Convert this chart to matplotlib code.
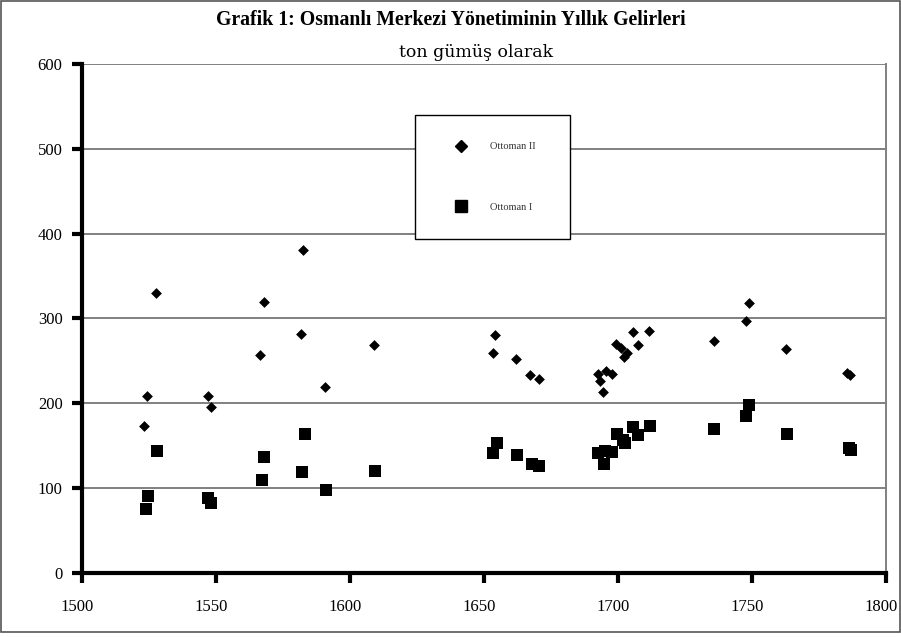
import matplotlib
matplotlib.use("Agg")
import matplotlib.pyplot as plt
from matplotlib.patches import Rectangle
from matplotlib.lines import Line2D
from matplotlib.transforms import ScaledTranslation

# Ottoman II (diamonds)
years_ii = [1523.3, 1524.4, 1527.7, 1546.9, 1548.0, 1567.8, 1566.6, 1581.6, 1582.6,
            1590.7, 1609.0, 1654.3, 1653.2, 1662.1, 1667.3, 1670.5,
            1692.5, 1693.4, 1694.5, 1695.6, 1697.7, 1699.1, 1701.3, 1703.2, 1702.4,
            1705.5, 1707.5, 1711.7, 1735.7, 1748.8, 1747.7, 1762.8, 1785.5, 1786.6]
vals_ii = [172.9, 208.6, 329.5, 208.6, 195.2, 319.2, 257.4, 282.0, 380.3,
           219.8, 268.8, 280.2, 259.0, 252.3, 233.2, 228.1,
           234.7, 226.2, 213.6, 238.6, 234.7, 269.6, 265.6, 259.7, 254.3,
           283.7, 269.2, 285.2, 273.9, 318.1, 296.6, 264.1, 236.0, 233.6]

# Ottoman I (squares)
years_i = [1528.1, 1524.7, 1523.9, 1547.2, 1548.3, 1568.1, 1567.0, 1583.1, 1582.0,
           1591.0, 1609.3, 1654.7, 1653.5, 1662.5, 1667.8, 1670.7,
           1692.6, 1695.1, 1697.6, 1694.7, 1699.6, 1702.0, 1702.8, 1705.7, 1707.6,
           1711.9, 1735.9, 1749.0, 1747.9, 1762.9, 1786.2, 1786.8]
vals_i = [144.0, 91.2, 75.1, 88.8, 83.0, 137.0, 110.0, 164.0, 119.4,
          98.2, 120.5, 153.4, 141.7, 139.3, 127.9, 126.4,
          141.7, 143.6, 142.4, 128.8, 164.0, 157.3, 153.4, 172.2, 163.1,
          173.7, 169.8, 198.0, 185.4, 164.0, 147.5, 144.4]

x_ticks = [1500, 1550, 1600, 1650, 1700, 1750, 1800]
y_ticks = [0, 100, 200, 300, 400, 500, 600]

title = "Grafik 1: Osmanlı Merkezi Yönetiminin Yıllık Gelirleri"
subtitle = "ton gümüş olarak"
label_ii = "Ottoman II"
label_i = "Ottoman I"

serif = ["Liberation Serif", "DejaVu Serif"]

fig = plt.figure(figsize=(9.01, 6.37), dpi=100)
fig.patch.set_facecolor("white")
fig.add_artist(Rectangle((0.0015, 0.008), 0.997, 0.99, transform=fig.transFigure,
                         fill=False, edgecolor="#555555", linewidth=1.2))

ax = fig.add_axes([0.091, 0.1005, 0.8923, 0.799])
ax.scatter(years_ii, vals_ii, marker="D", s=5.5**2, color="black", linewidths=0, zorder=3)
ax.scatter(years_i, vals_i, marker="s", s=9.0**2, color="black", linewidths=0, zorder=3)

ax.set_xlim(1500, 1800)
ax.set_ylim(0, 600)
ax.set_xticks(x_ticks)
ax.set_yticks(y_ticks)
ax.set_xticklabels([str(v) for v in x_ticks], family=serif, fontsize=12)
ax.set_yticklabels([str(v) for v in y_ticks], family=serif, fontsize=12)
ax.tick_params(axis="both", direction="out", length=7, width=3, color="black")
ax.tick_params(axis="x", pad=12)
ax.tick_params(axis="y", pad=7)
shift = ScaledTranslation(-5 / 100, 0, fig.dpi_scale_trans)
for lbl in ax.get_xticklabels():
    lbl.set_transform(lbl.get_transform() + shift)

for v in y_ticks[1:]:
    ax.axhline(v, color="#808080", linewidth=1.4, zorder=1)

ax.spines["left"].set_linewidth(3)
ax.spines["bottom"].set_linewidth(3)
ax.spines["left"].set_color("black")
ax.spines["bottom"].set_color("black")
ax.spines["right"].set_color("#808080")
ax.spines["right"].set_linewidth(1.4)
ax.spines["top"].set_visible(False)

# legend box
ax.add_patch(Rectangle((0.4142, 0.656), 0.607 - 0.4142, 0.900 - 0.656,
                       transform=ax.transAxes, facecolor="white", edgecolor="black",
                       linewidth=1.0, zorder=4))
handles = [Line2D([], [], marker="D", linestyle="none", color="black", markersize=6.0),
           Line2D([], [], marker="s", linestyle="none", color="black", markersize=9.0)]
leg = ax.legend(handles, [label_ii, label_i], loc="upper left",
                bbox_to_anchor=(0.462, 0.847), frameon=False,
                labelspacing=4.95, borderpad=0, handletextpad=2.0,
                borderaxespad=0, handlelength=1.5, prop={"family": serif, "size": 7.5})
leg.set_zorder(5)
for t in leg.get_texts():
    t.set_color("#333333")

fig.text(0.5, 0.9608, title, ha="center", va="baseline", fontsize=14.2,
         fontweight="bold", family=serif)
fig.text(0.528, 0.9113, subtitle, ha="center", va="baseline", fontsize=12.5,
         family=["DejaVu Serif"])

fig.savefig("out.png", dpi=100)
